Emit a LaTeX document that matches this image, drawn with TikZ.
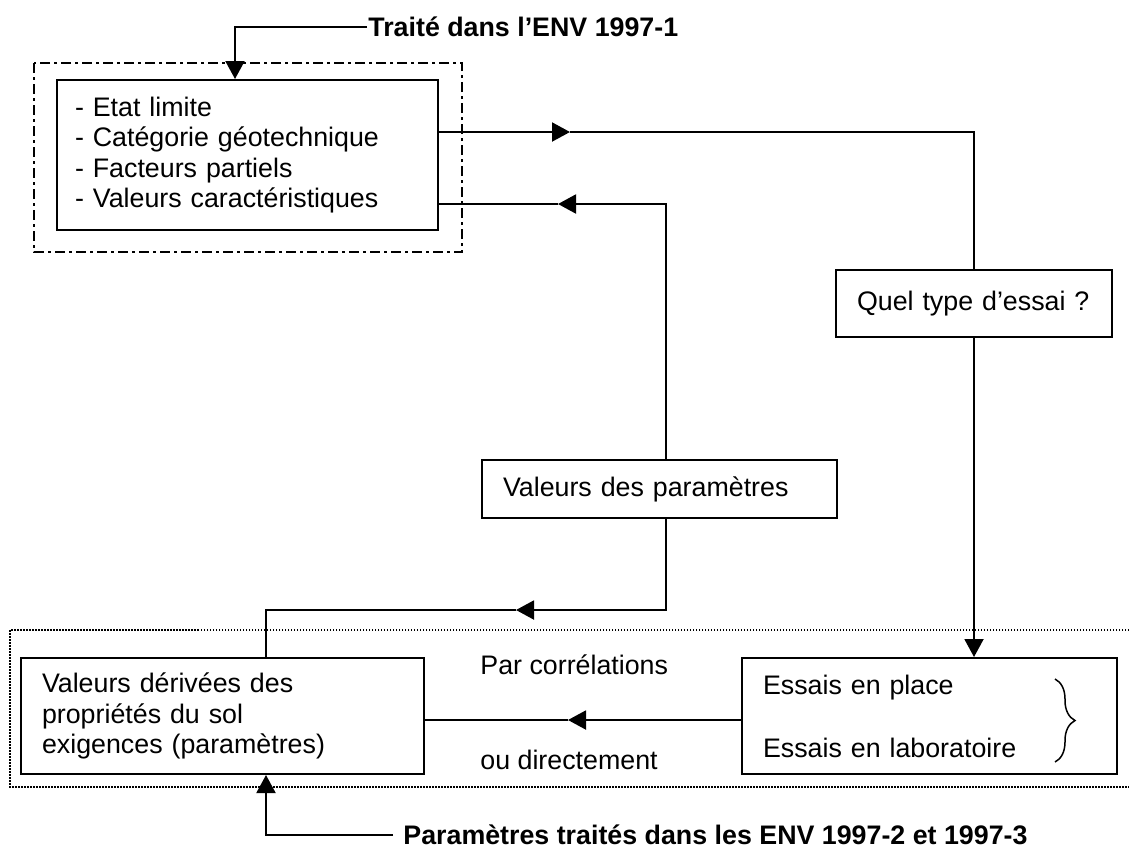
\documentclass[tikz,border=0pt]{standalone}
\usepackage{fontspec}
\setmainfont{Liberation Sans}
\usetikzlibrary{arrows.meta,decorations.pathreplacing}

\tikzset{
  box/.style={draw, line width=1pt, inner ysep=0pt, inner xsep=10.5pt, align=left},
  conn/.style={line width=1pt},
  >={Triangle[length=9pt,width=9.5pt]}
}

\begin{document}
\begin{tikzpicture}[x=0.5pt, y=-0.5pt, font=\fontsize{13.4pt}{15.2pt}\selectfont]

    \useasboundingbox (0,0) rectangle (1129,848);

    \draw [line width=1pt, dash pattern=on 5pt off 2pt on 1.5pt off 2pt] (34,63) rectangle (462,252);
    \draw [line width=0.75pt, dash pattern=on 0.75pt off 0.75pt] (1129,630) -- (10,630) -- (10,787) -- (1129,787);

    \node [box, inner xsep=9pt, text width=172.5pt, minimum height=75pt] (lim) at (247.5,155)
      {- Etat limite\\- Catégorie géotechnique\\- Facteurs partiels\\- Valeurs caractéristiques};
    \node [box, text width=117pt, minimum height=33.5pt] (quel) at (974,303.5) {Quel type d’essai ?};
    \node [box, text width=156.5pt, minimum height=29pt] (par) at (659.5,489) {Valeurs des paramètres};
    \node [box, text width=180.5pt, minimum height=58pt] (der) at (222.5,716)
      {Valeurs dérivées des\\propriétés du sol\\exigences (paramètres)};
    \node [box, text width=166.5pt, minimum height=58pt] (ess) at (929.5,716)
      {Essais en place\\[16.3pt]Essais en laboratoire};
    \node [anchor=west, inner sep=0pt] (pc) at (480,665) {Par corrélations};
    \node [anchor=west, inner sep=0pt] (od) at (480,760) {ou directement};
    \node [anchor=west, inner sep=0.5pt, font=\fontsize{13.4pt}{15.2pt}\selectfont\bfseries] (t1) at (367,27)
      {Traité dans l’ENV 1997-1};
    \node [anchor=west, inner sep=5pt, font=\fontsize{13.4pt}{15.2pt}\selectfont\bfseries] (t2) at (393,835)
      {Paramètres traités dans les ENV 1997-2 et 1997-3};

    \coordinate (c1) at (235,27);
    \coordinate (m1) at (570,132);
    \coordinate (k2) at (666,204);
    \coordinate (m2) at (558,204);
    \coordinate (k3) at (666,610);
    \coordinate (m3) at (516,610);
    \coordinate (k4) at (266,610);
    \coordinate (m4) at (568,720);
    \coordinate (k5) at (266,835);

    \draw [conn, ->] (t1.west) -- (c1) -- (c1 |- lim.north);
    \draw [conn, ->] (lim.east |- m1) -- (m1);
    \draw [conn] (m1) -| (quel.north);
    \draw [conn, ->] (quel.south) -- (quel.south |- ess.north);
    \draw [conn, ->] (par.north -| k2) -- (k2) -- (m2);
    \draw [conn] (m2) -- (lim.east |- m2);
    \draw [conn, ->] (par.south -| k3) -- (k3) -- (m3);
    \draw [conn] (m3) -- (k4) -- (k4 |- der.north);
    \draw [conn, ->] (ess.west |- m4) -- (m4);
    \draw [conn] (m4) -- (der.east |- m4);
    \draw [conn, ->] (t2.west) -- (k5) -- (k5 |- der.south);

    \draw [line width=0.75pt, decorate, decoration={brace, amplitude=10pt}]
      ([xshift=-31.5pt, yshift=-11pt]ess.north east) -- ([xshift=-31.5pt, yshift=6.5pt]ess.south east);

    \end{tikzpicture}
\end{document}
